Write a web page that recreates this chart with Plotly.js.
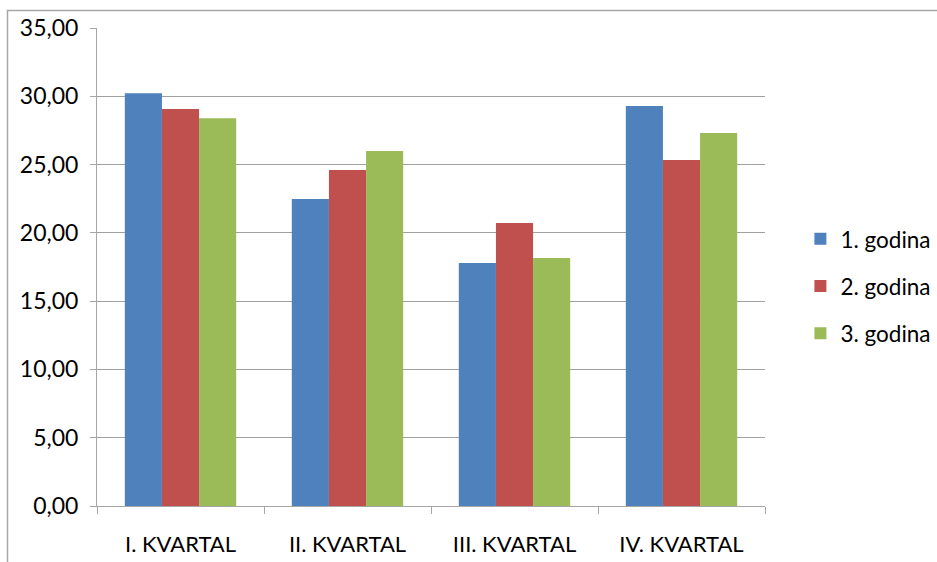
<!DOCTYPE html>
<html>
<head>
<meta charset="utf-8">
<script src="https://cdn.plot.ly/plotly-3.0.1.min.js"></script>
<style>html,body{margin:0;padding:0;background:#fff;} #chart{width:937px;height:562px;}</style>
</head>
<body>
<div id="chart"></div>
<script>
const categories = ["I. KVARTAL", "II. KVARTAL", "III. KVARTAL", "IV. KVARTAL"];
const seriesNames = ["1. godina", "2. godina", "3. godina"];
const year1 = [30.23, 22.47, 17.79, 29.28];
const year2 = [29.06, 24.60, 20.72, 25.33];
const year3 = [28.40, 25.99, 18.16, 27.31];
const colors = ["#4F81BD", "#C0504D", "#9BBB59"];
const yTicks = [0, 5, 10, 15, 20, 25, 30, 35];

const font = "Lato, 'Open Sans', sans-serif";
const traces = [year1, year2, year3].map((vals, i) => ({
  type: "bar",
  name: seriesNames[i],
  x: categories,
  y: vals,
  marker: {color: colors[i], line: {width: 0}},
  legendgroup: "g" + i,
  hoverinfo: "x+y+name"
}));

const layout = {
  width: 937, height: 562,
  margin: {l: 97, r: 172, t: 28, b: 56, pad: 0, autoexpand: false},
  paper_bgcolor: "#fff", plot_bgcolor: "#fff",
  separators: ",.",
  barmode: "group",
  bargap: 0.333, bargroupgap: 0,
  font: {family: font, size: 22, color: "#000"},
  showlegend: true,
  legend: {
    x: 1.053, xanchor: "left", y: 0.46, yanchor: "middle",
    traceorder: "grouped", tracegroupgap: 15,
    font: {family: font, size: 22.5, color: "#000"},
    itemwidth: 30
  },
  xaxis: {
    type: "category",
    showline: true, linecolor: "#A6A6A6", linewidth: 1,
    ticks: "outside", tickson: "boundaries", ticklen: 7, tickcolor: "#A6A6A6",
    showgrid: false, zeroline: false,
    tickfont: {family: font, size: 22, color: "#000"},
    ticklabelstandoff: 19
  },
  yaxis: {
    range: [0, 35],
    tickmode: "array", tickvals: yTicks, tickformat: ".2f",
    showline: true, linecolor: "#A6A6A6", linewidth: 1,
    ticks: "outside", ticklen: 6, tickcolor: "#A6A6A6",
    showgrid: true, gridcolor: "#A0A0A0", gridwidth: 1,
    zeroline: false,
    tickfont: {family: font, size: 23, color: "#000"},
    ticklabelstandoff: 7
  },
  shapes: [{
    type: "rect", xref: "paper", yref: "paper",
    x0: (7.5 - 97) / 668, x1: (945 - 97) / 668,
    y0: -0.2, y1: 1 + (28 - 10.5) / 478,
    line: {color: "#A6A6A6", width: 1.5}, fillcolor: "rgba(0,0,0,0)", layer: "below"
  }]
};

Plotly.newPlot("chart", traces, layout, {displayModeBar: false, staticPlot: true});
</script>
</body>
</html>
